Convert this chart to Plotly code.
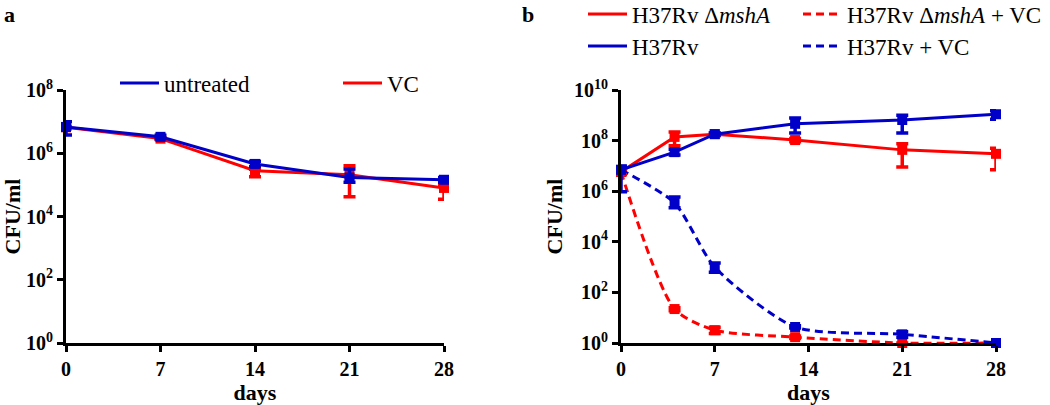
import plotly.graph_objects as go

W, H = 1050, 405
RED = "#FF0000"
BLUE = "#0000C8"
FONT = "Liberation Serif"

# ---------- Panel a data ----------
days_a = [0, 7, 14, 21, 28]
untreated = [6.8e6, 3.3e6, 4.6e5, 1.7e5, 1.45e5]
untreated_hi = [1.0e7, 3.7e6, 5.6e5, 3.2e5, 1.7e5]
untreated_lo = [3.8e6, 2.9e6, 3.8e5, 1.2e5, 1.2e5]
vc = [6.6e6, 2.9e6, 2.8e5, 2.1e5, 8.0e4]
vc_hi = [7.2e6, 3.1e6, 3.1e5, 4.0e5, 1.0e5]
vc_lo = [6.0e6, 2.7e6, 1.8e5, 4.2e4, 3.5e4]

# ---------- Panel b data ----------
days_b = [0, 4, 7, 13, 21, 28]
mshA = [5.8e6, 1.4e8, 1.8e8, 1.05e8, 4.3e7, 3.0e7]
mshA_hi = [7.5e6, 2.2e8, 2.0e8, 1.2e8, 7.5e7, 5.0e7]
mshA_lo = [4.5e6, 6.2e7, 1.6e8, 0.9e8, 9.0e6, 7.0e6]
h37 = [7.0e6, 3.5e7, 1.8e8, 4.6e8, 6.5e8, 1.1e9]
h37_hi = [1.0e7, 4.5e7, 2.0e8, 7.8e8, 1.0e9, 1.5e9]
h37_lo = [9.5e5, 2.7e7, 1.6e8, 2.0e8, 2.0e8, 7.0e8]
mshA_vc = [5.8e6, 22, 3.2, 1.7, 1.0, 1.0]
mshA_vc_hi = [6.5e6, 25, 4.2, 1.9, 1.0, 1.0]
mshA_vc_lo = [5.2e6, 19, 2.4, 1.5, 1.0, 1.0]
h37_vc = [7.0e6, 3.4e5, 1.0e3, 4.3, 2.2, 1.0]
h37_vc_hi = [8.0e6, 5.9e5, 1.45e3, 4.8, 2.8, 1.0]
h37_vc_lo = [6.0e6, 2.2e5, 6.3e2, 3.9, 1.7, 1.0]

ytick_a = [1, 1e2, 1e4, 1e6, 1e8]
ytext_a = ["10<sup>0</sup>", "10<sup>2</sup>", "10<sup>4</sup>", "10<sup>6</sup>", "10<sup>8</sup>"]
ytick_b = [1, 1e2, 1e4, 1e6, 1e8, 1e10]
ytext_b = ["10<sup>0</sup>", "10<sup>2</sup>", "10<sup>4</sup>", "10<sup>6</sup>", "10<sup>8</sup>", "10<sup>10</sup>"]
xticks = [0, 7, 14, 21, 28]


def err(vals, hi, lo, color):
    return dict(type="data", symmetric=False,
                array=[h - v for v, h in zip(vals, hi)],
                arrayminus=[v - l for v, l in zip(vals, lo)],
                color=color, thickness=3.5, width=6)


def add_series(fig, x, y, hi, lo, name, color, dash, xa, ya, legend, shape="linear"):
    # line trace (carries the legend entry, line only)
    fig.add_trace(go.Scatter(
        x=x, y=y, name=name, mode="lines",
        line=dict(color=color, width=3, dash=dash, shape=shape,
                  smoothing=0.7 if shape == "spline" else None),
        xaxis=xa, yaxis=ya, legend=legend, cliponaxis=False,
    ))
    # markers + error bars
    fig.add_trace(go.Scatter(
        x=x, y=y, name=name, mode="markers", showlegend=False,
        marker=dict(symbol="square", size=10, color=color),
        error_y=err(y, hi, lo, color),
        xaxis=xa, yaxis=ya, cliponaxis=False,
    ))


DASH = "8px,5px"
fig = go.Figure()
add_series(fig, days_a, vc, vc_hi, vc_lo, "VC", RED, "solid", "x", "y", "legend2")
add_series(fig, days_a, untreated, untreated_hi, untreated_lo, "untreated", BLUE, "solid", "x", "y", "legend")

add_series(fig, days_b, mshA_vc, mshA_vc_hi, mshA_vc_lo, "H37Rv Δ<i>mshA</i> + VC", RED, DASH, "x2", "y2", "legend4", "spline")
add_series(fig, days_b, h37_vc, h37_vc_hi, h37_vc_lo, "H37Rv + VC", BLUE, DASH, "x2", "y2", "legend6", "spline")
add_series(fig, days_b, mshA, mshA_hi, mshA_lo, "H37Rv Δ<i>mshA</i>", RED, "solid", "x2", "y2", "legend3")
add_series(fig, days_b, h37, h37_hi, h37_lo, "H37Rv", BLUE, "solid", "x2", "y2", "legend5")

axis_common = dict(showline=True, linecolor="black", linewidth=3, ticks="outside",
                   ticklen=6, tickwidth=3, tickcolor="black", showgrid=False, zeroline=False,
                   automargin=False,
                   tickfont=dict(family=FONT, size=20, color="black", weight="bold"))

ytop = (H - 90) / H
ybot = (H - 343) / H
title_font = dict(family=FONT, size=22, color="black")

fig.update_layout(
    width=W, height=H, margin=dict(l=0, r=0, t=0, b=0, autoexpand=False),
    paper_bgcolor="white", plot_bgcolor="white",
    font=dict(family=FONT, color="black"),
    xaxis=dict(domain=[66 / W, 444 / W], range=[0, 28], tickvals=xticks, anchor="y",
               title=dict(text="<b>days</b>", font=title_font, standoff=6), **axis_common),
    yaxis=dict(domain=[ybot, ytop], type="log", range=[0, 8], tickvals=ytick_a, ticktext=ytext_a,
               anchor="x", title=dict(text="<b>CFU/ml</b>", font=title_font, standoff=6), **axis_common),
    xaxis2=dict(domain=[621 / W, 996 / W], range=[0, 28], tickvals=xticks, anchor="y2",
                title=dict(text="<b>days</b>", font=title_font, standoff=6), **axis_common),
    yaxis2=dict(domain=[ybot, ytop], type="log", range=[0, 10], tickvals=ytick_b, ticktext=ytext_b,
                anchor="x2", title=dict(text="<b>CFU/ml</b>", font=title_font, standoff=6), **axis_common),
)

leg_font = dict(family=FONT, size=23, color="black")


def leg(px, py):
    return dict(x=px / W, y=1 - py / H, xanchor="left", yanchor="middle",
                font=leg_font, bgcolor="rgba(0,0,0,0)", borderwidth=0,
                itemwidth=39, tracegroupgap=0)


fig.update_layout(
    legend=leg(115, 83), legend2=leg(338, 83),
    legend3=leg(583, 14), legend4=leg(798, 14),
    legend5=leg(583, 46), legend6=leg(798, 46),
    showlegend=True,
)

fig.add_annotation(text="<b>a</b>", x=2 / W, y=1 - 15 / H, xref="paper", yref="paper",
                   xanchor="left", yanchor="middle", showarrow=False, font=dict(family=FONT, size=22))
fig.add_annotation(text="<b>b</b>", x=520 / W, y=1 - 15 / H, xref="paper", yref="paper",
                   xanchor="left", yanchor="middle", showarrow=False, font=dict(family=FONT, size=22))

fig.write_html("out.html", config={"displayModeBar": False},
               post_script="document.body.style.margin='0px';document.body.style.overflow='hidden';")
